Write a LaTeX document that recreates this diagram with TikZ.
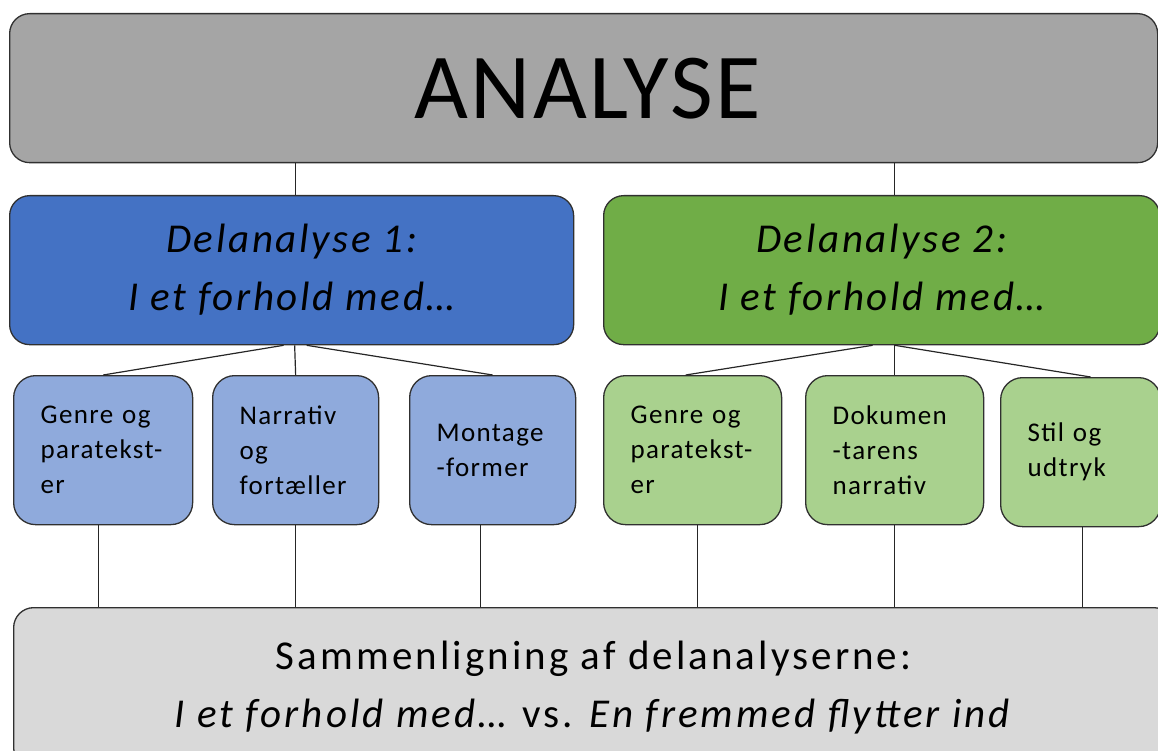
\documentclass[tikz,border=0pt]{standalone}
\usepackage{fontspec}
\setmainfont{Carlito}
\newfontfamily\titlefont[LetterSpace=2.6]{Carlito}
\newfontfamily\headfont[LetterSpace=6.5]{Carlito}
\newfontfamily\botfont[LetterSpace=7.5]{Carlito}
\newfontfamily\subfont[LetterSpace=5]{Carlito}
\definecolor{topgray}{HTML}{A5A5A5}
\definecolor{botgray}{HTML}{D9D9D9}
\definecolor{darkblue}{HTML}{4472C4}
\definecolor{darkgreen}{HTML}{70AD47}
\definecolor{lightblue}{HTML}{8FAADC}
\definecolor{lightgreen}{HTML}{A9D18E}
\definecolor{edge}{HTML}{303030}
\definecolor{linecol}{HTML}{262626}
\begin{document}
\begin{tikzpicture}[x=1pt,y=-1pt,
  box/.style={draw=edge, line width=1.3pt, rounded corners=20pt, inner sep=0pt, anchor=north west},
  bigbox/.style={box, minimum height=149pt, align=center, font=\headfont\itshape\fontsize{41}{58}\selectfont},
  subbox/.style={box, rounded corners=22pt, minimum height=149pt, inner xsep=27pt, inner ysep=0pt, align=left, font=\subfont\fontsize{27}{35}\selectfont},
  link/.style={draw=linecol, line width=1.2pt}]
\useasboundingbox (0,0) rectangle (1158,751);
\node[box, fill=topgray, minimum width=1148pt, minimum height=149pt, font=\titlefont\fontsize{93}{100}\selectfont] (top) at (9,13) {\hspace*{8pt}ANALYSE};
\node[bigbox, fill=darkblue, minimum width=564pt] (d1) at (9,195) {Delanalyse 1:\\I et forhold med…};
\node[bigbox, fill=darkgreen, minimum width=556pt] (d2) at (603,195) {Delanalyse 2:\\I et forhold med…};
\node[subbox, fill=lightblue, text width=125pt] (b1) at (13,375) {Genre og\\paratekst-\\er};
\node[subbox, fill=lightblue, text width=112pt] (b2) at (212,375) {Narrativ\\og\\fortæller};
\node[subbox, fill=lightblue, text width=112pt] (b3) at (409,375) {Montage\\-former};
\node[subbox, fill=lightgreen, text width=124pt] (g1) at (603,375) {Genre og\\paratekst-\\er};
\node[subbox, fill=lightgreen, text width=124pt] (g2) at (805,375) {Dokumen\\-tarens\\narrativ};
\node[subbox, fill=lightgreen, text width=106pt] (g3) at (1000,377) {Stil og\\udtryk};
\node[box, fill=botgray, minimum width=1160pt, minimum height=160pt, align=center, font=\botfont\fontsize{41}{58}\selectfont] (bot) at (13,607) {Sammenligning af delanalyserne:\\\textit{I et forhold med…} vs. \textit{En fremmed flytter ind}};
% connectors
\draw[link] ([xshift=4pt]d1.north) -- ([xshift=4pt]d1.north |- top.south);
\draw[link] ([xshift=13pt]d2.north) -- ([xshift=13pt]d2.north |- top.south);
\draw[link] ([xshift=-8pt]d1.south) -- (b1.north);
\draw[link] ([xshift=3pt]d1.south) -- (b2.north);
\draw[link] ([xshift=15pt]d1.south) -- (b3.north);
\draw[link] ([xshift=-9pt]d2.south) -- ([xshift=-7pt]g1.north);
\draw[link] ([xshift=13pt]d2.south) -- (g2.north);
\draw[link] ([xshift=13pt]d2.south) -- ([xshift=10pt]g3.north);
\draw[link] ([xshift=-5pt]b1.south) -- ([xshift=-5pt]b1.south |- bot.north);
\draw[link] (b2.south) -- (b2.south |- bot.north);
\draw[link] ([xshift=-12pt]b3.south) -- ([xshift=-12pt]b3.south |- bot.north);
\draw[link] ([xshift=5pt]g1.south) -- ([xshift=5pt]g1.south |- bot.north);
\draw[link] (g2.south) -- (g2.south |- bot.north);
\draw[link] ([xshift=2pt]g3.south) -- ([xshift=2pt]g3.south |- bot.north);
\end{tikzpicture}
\end{document}
